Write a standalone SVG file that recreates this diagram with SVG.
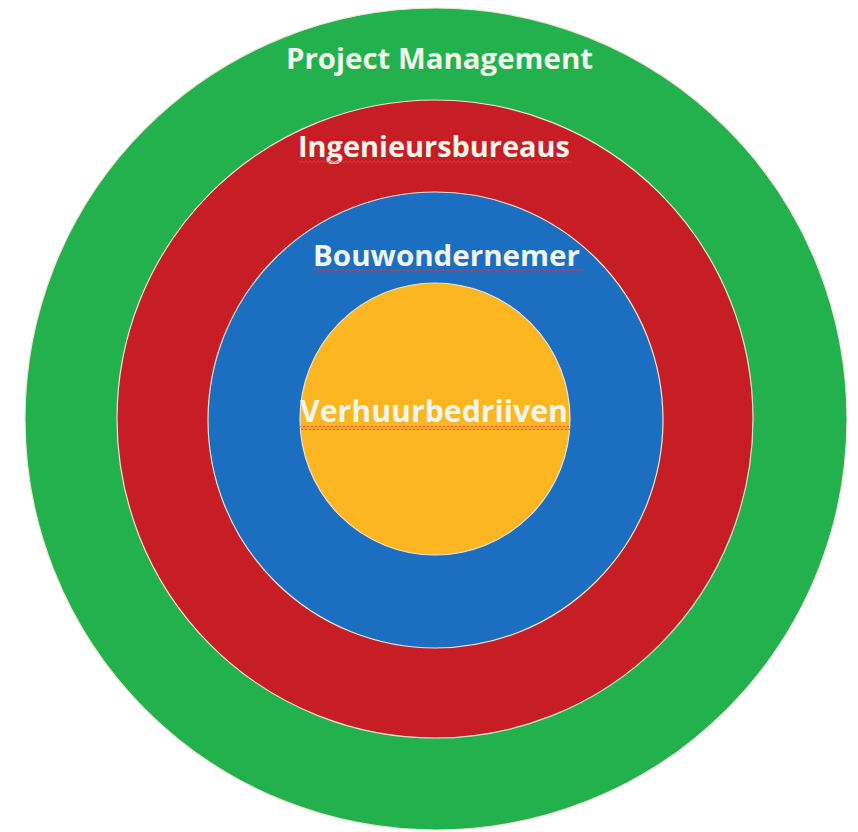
<svg xmlns="http://www.w3.org/2000/svg" width="858" height="832" viewBox="0 0 858 832">
<defs>
<style>
.ring{stroke:#efe3d6;stroke-width:1.2}
.lbl{font-family:"Open Sans","Liberation Sans",sans-serif;font-weight:bold;fill:#f1f5ec;text-anchor:start}
</style>
<pattern id="squig" width="4" height="4" patternUnits="userSpaceOnUse">
<path d="M0,3.3 L2,0.7 L4,3.3" fill="none" stroke="#e0303a" stroke-width="0.9"/>
</pattern>
</defs>
<rect width="858" height="832" fill="#ffffff"/>
<g id="project-management">
<ellipse class="ring" cx="436" cy="419" rx="411" ry="411" fill="#22b14c"/>
<text class="lbl" x="286" y="69" font-size="29" textLength="307" lengthAdjust="spacingAndGlyphs">Project Management</text>
</g>
<g id="ingenieursbureaus">
<ellipse class="ring" cx="435" cy="419" rx="318" ry="319" fill="#c61e24"/>
<text class="lbl" x="298" y="157" font-size="28" textLength="272" lengthAdjust="spacingAndGlyphs">Ingenieursbureaus</text>
<rect x="298" y="160" width="274" height="4" fill="url(#squig)"/>
</g>
<g id="bouwondernemer">
<ellipse class="ring" cx="435.5" cy="420" rx="227.5" ry="228" fill="#1b6ec0"/>
<text class="lbl" x="313" y="266" font-size="28" textLength="267" lengthAdjust="spacingAndGlyphs">Bouwondernemer</text>
<rect x="313" y="269" width="269" height="4" fill="url(#squig)"/>
</g>
<g id="verhuurbedriiven">
<ellipse class="ring" cx="435" cy="419" rx="135" ry="136" fill="#fbb622"/>
<text class="lbl" x="300" y="422" font-size="31" textLength="268" lengthAdjust="spacingAndGlyphs">Verhuurbedriiven</text>
<rect x="300" y="426" width="270" height="4" fill="url(#squig)"/>
</g>
<g id="connectors"></g>
</svg>
